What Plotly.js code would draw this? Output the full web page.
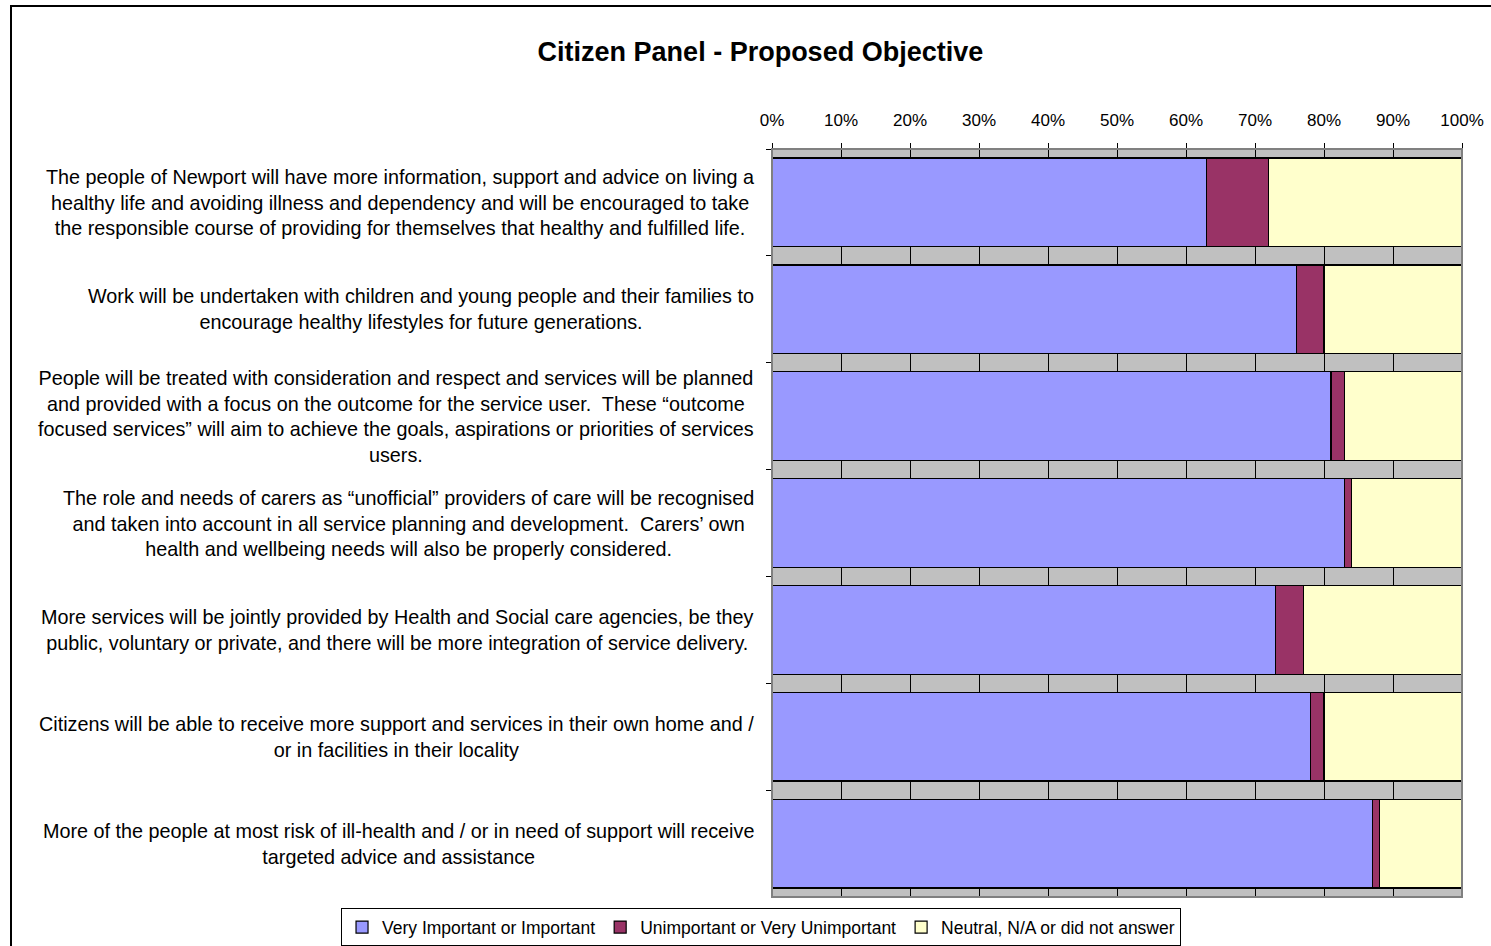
<!DOCTYPE html>
<html>
<head>
<meta charset="utf-8">
<script src="https://cdn.plot.ly/plotly-3.0.1.min.js"></script>
<style>
html,body{margin:0;padding:0;overflow:hidden;background:#fff;}
#chart{width:1491px;height:946px;position:absolute;left:0;top:0;}
#frame{position:absolute;left:10px;top:5px;width:2000px;height:2000px;border:2px solid #000;pointer-events:none;}
</style>
</head>
<body>
<div id="chart"></div>
<div id="frame"></div>
<script>
const categories = [
  "The people of Newport will have more information, support and advice on living a<br>healthy life and avoiding illness and dependency and will be encouraged to take<br>the responsible course of providing for themselves that healthy and fulfilled life.",
  "Work will be undertaken with children and young people and their families to<br>encourage healthy lifestyles for future generations.",
  "People will be treated with consideration and respect and services will be planned<br>and provided with a focus on the outcome for the service user.  These \u201coutcome<br>focused services\u201d will aim to achieve the goals, aspirations or priorities of services<br>users.",
  "The role and needs of carers as \u201cunofficial\u201d providers of care will be recognised<br>and taken into account in all service planning and development.  Carers\u2019 own<br>health and wellbeing needs will also be properly considered.",
  "More services will be jointly provided by Health and Social care agencies, be they<br>public, voluntary or private, and there will be more integration of service delivery.",
  "Citizens will be able to receive more support and services in their own home and /<br>or in facilities in their locality",
  "More of the people at most risk of ill-health and / or in need of support will receive<br>targeted advice and assistance"
];
const seriesNames = ["Very Important or Important", "Unimportant or Very Unimportant", "Neutral, N/A or did not answer"];
const important = [63, 76, 81, 83, 73, 78, 87];
const unimportant = [9, 4, 2, 1, 4, 2, 1];
const neutral = [28, 20, 17, 16, 23, 20, 12];
const colors = ["#9999FF", "#993366", "#FFFFCC"];
const tickVals = [0, 10, 20, 30, 40, 50, 60, 70, 80, 90, 100];
const tickText = ["0%", "10%", "20%", "30%", "40%", "50%", "60%", "70%", "80%", "90%", "100%"];

const font = "Liberation Sans, Arial, Helvetica, sans-serif";
const data = [important, unimportant, neutral].map((vals, i) => ({
  type: "bar",
  orientation: "h",
  name: seriesNames[i],
  x: vals,
  y: categories,
  marker: {color: colors[i], line: {color: "#000", width: 1.2}},
  hoverinfo: "x+name"
}));

const annotations = categories.map(c => ({
  xref: "paper", yref: "y", x: -0.023, y: c,
  xanchor: "right", yanchor: "middle", align: "center",
  text: c, showarrow: false,
  font: {family: font, size: 19.8, color: "#000"}
}));

const layout = {
  width: 1491, height: 946,
  margin: {l: 772, r: 29, t: 149, b: 49, pad: 0, autoexpand: false},
  paper_bgcolor: "rgba(0,0,0,0)",
  plot_bgcolor: "#C0C0C0",
  barmode: "stack",
  bargap: 0.17,
  title: {text: "<b>Citizen Panel - Proposed Objective</b>", x: 0.51, xref: "container", xanchor: "center",
          y: 0.946, yanchor: "middle",
          font: {family: font, size: 27, color: "#000"}},
  xaxis: {
    side: "top", range: [0, 100], tickvals: tickVals, ticktext: tickText,
    ticks: "outside", ticklen: 5, tickcolor: "#000", tickwidth: 1,
    ticklabelstandoff: 10,
    showgrid: true, gridcolor: "#000", gridwidth: 1,
    showline: true, linecolor: "#000", linewidth: 1, mirror: false,
    zeroline: false, fixedrange: true,
    tickfont: {family: font, size: 17, color: "#000"}
  },
  yaxis: {
    autorange: "reversed", type: "category",
    showticklabels: false, ticks: "outside", tickson: "boundaries", ticklen: 5,
    tickcolor: "#000", showgrid: false,
    showline: true, linecolor: "#000", linewidth: 1, zeroline: false, fixedrange: true
  },
  shapes: [{type: "rect", xref: "paper", yref: "paper", x0: 0, x1: 1, y0: 0, y1: 1,
            line: {color: "#808080", width: 2}, layer: "above"}],
  annotations: annotations,
  showlegend: true,
  legend: {
    orientation: "h", x: -0.6246, xanchor: "left", y: -0.015, yanchor: "top",
    bordercolor: "#000", borderwidth: 1, bgcolor: "#fff",
    font: {family: font, size: 17.5, color: "#000"}, traceorder: "normal",
    itemwidth: 30
  }
};

Plotly.newPlot("chart", data, layout, {displayModeBar: false});
</script>
</body>
</html>
